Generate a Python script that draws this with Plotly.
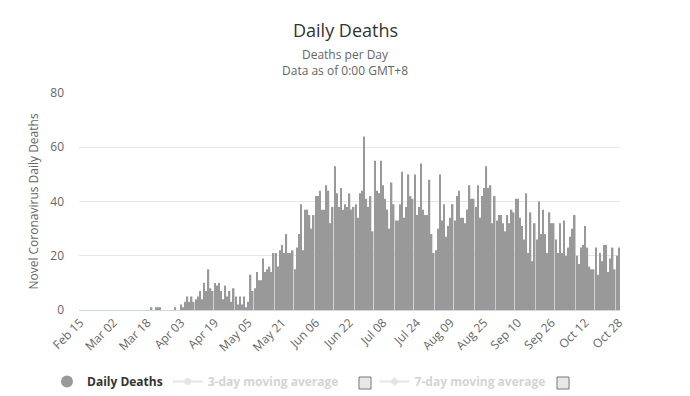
import pandas as pd
import plotly.graph_objects as go

# ---------------- data ----------------
dates = pd.date_range("2020-02-15", "2020-10-28", freq="D").strftime("%Y-%m-%d").tolist()

early_zeros = [0] * 34
early = [1, 0, 1, 1, 1, 0, 0, 0, 0, 0, 0, 1, 0, 0]
april = [2, 1, 3, 5, 3, 5, 3, 4, 5, 7, 4, 10, 7, 15, 8, 7]
apr_may = [10, 9, 10, 7, 4, 9, 5, 7, 3, 8, 5, 2, 5, 2, 5, 1, 3, 13, 7, 8,
           14, 11, 11, 19, 14, 15, 16, 14, 21, 21, 16, 22, 24, 21, 28, 21]
may_jun = [21, 22, 15, 23, 28, 39, 22, 37, 37, 35, 30, 35, 42, 42, 44, 37, 37, 46, 44, 32,
           38, 53, 43, 38, 45, 37, 39, 38, 43, 37, 38, 39, 34, 43, 44]
peak = [64]
jul_aug = [41, 38, 42, 29, 55, 44, 43, 55, 46, 41, 37, 30, 47, 39, 33, 33, 39, 51, 34, 38,
           50, 42, 41, 50, 35, 38, 54, 37, 35, 35, 48, 28, 21, 22, 30, 50]
aug_sep = [33, 39, 27, 31, 34, 39, 33, 42, 44, 34, 34, 32, 37, 46, 41, 41, 38, 46, 34, 42,
           45, 53, 45, 46, 32, 42, 33, 35, 35, 32, 29, 35, 32]
sep_oct = [37, 36, 41, 41, 34, 31, 26, 43, 21, 36, 18, 32, 26, 40, 28, 37, 28, 21, 36, 32,
           32, 26, 21, 32, 21, 33, 20, 23, 27]
october = [30, 35, 20, 17, 23, 24, 31, 23, 16, 15, 15, 23, 13, 21, 18, 24, 24, 14, 19, 23,
           15, 20, 23]

daily_deaths = early_zeros + early + april + apr_may + may_jun + peak + jul_aug + aug_sep + sep_oct + october

tick_dates = dates[::16]
tick_labels = ["Feb 15", "Mar 02", "Mar 18", "Apr 03", "Apr 19", "May 05", "May 21", "Jun 06",
               "Jun 22", "Jul 08", "Jul 24", "Aug 09", "Aug 25", "Sep 10", "Sep 26", "Oct 12", "Oct 28"]

y_ticks = [0, 20, 40, 60, 80]

# ---------------- figure ----------------
# the page body adds an 8px offset, so the figure is drawn 8px smaller and
# every position below is given in page pixels and shifted by OFF.
OFF = 8
W, H = 690 - OFF, 396 - OFF
PLOT_L, PLOT_R, PLOT_T, PLOT_B = 79, 620, 93, 310          # page pixels
L, R, T, B = PLOT_L - OFF, W - (PLOT_R - OFF), PLOT_T - OFF, H - (PLOT_B - OFF)
FONT = "Open Sans, Noto Sans, sans-serif"
NB = "&nbsp;"


def px_x(p):
    return (p - OFF - L) / (W - L - R)


def px_y(p):
    return (H - B - (p - OFF)) / (H - T - B)


fig = go.Figure()

fig.add_trace(go.Bar(
    x=dates, y=daily_deaths, name="Daily Deaths",
    marker=dict(color="#999999", line=dict(width=0)),
    showlegend=False, legendgroup="dd",
    hovertemplate="%{x}<br>Daily Deaths: %{y}<extra></extra>",
))
# legend entry for the bar series (circle symbol, as in the reference)
fig.add_trace(go.Scatter(
    x=[None], y=[None], mode="markers", name="<b>Daily Deaths</b>",
    marker=dict(color="#999999", size=12, symbol="circle"),
    legendgroup="dd", showlegend=True,
))
fig.add_trace(go.Scatter(
    x=[None], y=[None], mode="lines+markers",
    name="<span style='color:#aaaaaa'><b>3-day moving average</b></span>" + NB * 10,
    line=dict(color="#cccccc", width=2), marker=dict(symbol="circle", size=7, color="#cccccc"),
    visible="legendonly",
))
fig.add_trace(go.Scatter(
    x=[None], y=[None], mode="lines+markers",
    name="<span style='color:#aaaaaa'><b>7-day moving average</b></span>" + NB * 8,
    line=dict(color="#cccccc", width=2), marker=dict(symbol="diamond", size=7, color="#cccccc"),
    visible="legendonly",
))

shapes = []
for cx in (365, 563):
    shapes.append(dict(type="rect", xref="paper", yref="paper",
                       x0=px_x(cx - 6), x1=px_x(cx + 6), y0=px_y(389), y1=px_y(377),
                       line=dict(color="#777777", width=1), fillcolor="#e8e8e8", layer="above"))

fig.update_layout(
    width=W, height=H,
    margin=dict(l=L, r=R, t=T, b=B, autoexpand=False),
    paper_bgcolor="white", plot_bgcolor="white",
    font=dict(family=FONT, color="#666666", size=12),
    bargap=0.28,
    showlegend=True,
    legend=dict(orientation="h", xref="container", yref="container",
                x=(47 - OFF) / W, xanchor="left", y=1 - (367 - OFF) / H, yanchor="top",
                bgcolor="rgba(0,0,0,0)",
                font=dict(size=12, color="#333333"), itemwidth=30,
                itemclick=False, itemdoubleclick=False),
    shapes=shapes,
    annotations=[
        dict(text="Daily Deaths", x=px_x(345), y=px_y(30), xref="paper", yref="paper",
             xanchor="center", yanchor="middle",
             showarrow=False, font=dict(size=18, color="#333333", family=FONT)),
        dict(text="Deaths per Day<br>Data as of 0:00 GMT+8", x=px_x(345), y=px_y(63),
             xref="paper", yref="paper", xanchor="center", yanchor="middle", showarrow=False,
             font=dict(size=12, color="#666666", family=FONT)),
    ],
)

fig.update_xaxes(
    type="category", tickmode="array", tickvals=tick_dates, ticktext=tick_labels,
    tickangle=-45, showgrid=False, showline=True, linecolor="#ccd6eb", linewidth=1,
    ticks="", tickfont=dict(size=12, color="#666666"), range=[-0.5, len(dates) - 0.5],
    automargin=False,
)
fig.update_yaxes(
    range=[0, 80], tickvals=y_ticks, showgrid=True, gridcolor="#e6e6e6", gridwidth=1,
    zeroline=False, showline=False, ticks="", tickfont=dict(size=12, color="#666666"),
    ticklabelstandoff=14,
    title=dict(text="Novel Coronavirus Daily Deaths", font=dict(size=12, color="#666666"), standoff=9),
    automargin=False,
)

fig.write_html("out.html")
